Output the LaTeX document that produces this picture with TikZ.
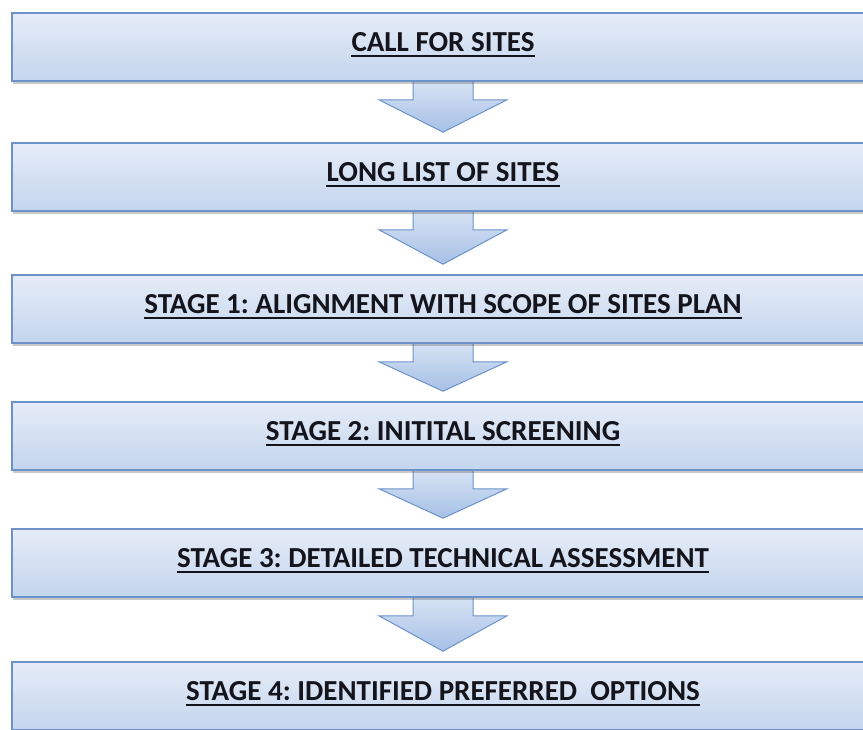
\documentclass[tikz,border=0pt]{standalone}
\usepackage{fontspec}
\setmainfont{Carlito}
\usetikzlibrary{calc,shadows}
\pgfdeclarelayer{background}
\pgfsetlayers{background,main}
\definecolor{boxtop}{RGB}{229,236,247}
\definecolor{boxbot}{RGB}{196,213,238}
\definecolor{boxline}{RGB}{108,146,202}
\definecolor{arrtop}{RGB}{218,229,245}
\definecolor{arrbot}{RGB}{166,192,230}
\definecolor{txt}{RGB}{20,20,28}
\begin{document}
\frenchspacing
\begin{tikzpicture}[x=1pt,y=1pt,
  stagebox/.style={rectangle, minimum width=862pt, minimum height=68pt, inner sep=0pt,
    draw=boxline, line width=1.6pt, top color=boxtop, bottom color=boxbot,
    drop shadow={shadow xshift=1pt, shadow yshift=-3pt, opacity=0.3, fill=black!70}},
  stagetext/.style={inner sep=0pt, anchor=base, text=txt,
    font=\fontsize{29}{33}\selectfont\bfseries},
  ul/.style={line width=1.4pt, draw=txt},
  blockarrow/.style={draw=boxline, line width=1pt, top color=arrtop, bottom color=arrbot, line join=miter}]
\useasboundingbox (0,0) rectangle (863,729);
\node[stagebox] (b1) at (443,682) {};
\node[stagebox] (b2) at (443,552) {};
\node[stagebox] (b3) at (443,420) {};
\node[stagebox] (b4) at (443,293) {};
\node[stagebox] (b5) at (443,166) {};
\node[stagebox] (b6) at (443,33) {};
\node[stagetext] (t1) at ($(b1.north)+(0,-39)$) {CALL FOR SITES};
\node[stagetext] (t2) at ($(b2.north)+(0,-39)$) {LONG LIST OF SITES};
\node[stagetext] (t3) at ($(b3.north)+(0,-39)$) {STAGE 1: ALIGNMENT WITH SCOPE OF SITES PLAN};
\node[stagetext] (t4) at ($(b4.north)+(0,-39)$) {STAGE 2: INITITAL SCREENING};
\node[stagetext] (t5) at ($(b5.north)+(0,-39)$) {STAGE 3: DETAILED TECHNICAL ASSESSMENT};
\node[stagetext] (t6) at ($(b6.north)+(0,-39)$) {STAGE 4: IDENTIFIED PREFERRED\ \ OPTIONS};
\foreach \t in {t1,t2,t3,t4,t5,t6}{
  \draw[ul] ($(\t.base west)+(0,-5)$) -- ($(\t.base east)+(0,-5)$);
}
\begin{pgfonlayer}{background}
\foreach \a/\b in {b1/b2,b2/b3,b3/b4,b4/b5,b5/b6}{
  \draw[blockarrow] ($(\a.south)+(-30,4)$) -- ($(\a.south)+(-30,-18)$) -- ($(\a.south)+(-64,-18)$)
    -- ($(\b.north)+(0,10)$) -- ($(\a.south)+(64,-18)$) -- ($(\a.south)+(30,-18)$) -- ($(\a.south)+(30,4)$);
}
\end{pgfonlayer}
\end{tikzpicture}
\end{document}
